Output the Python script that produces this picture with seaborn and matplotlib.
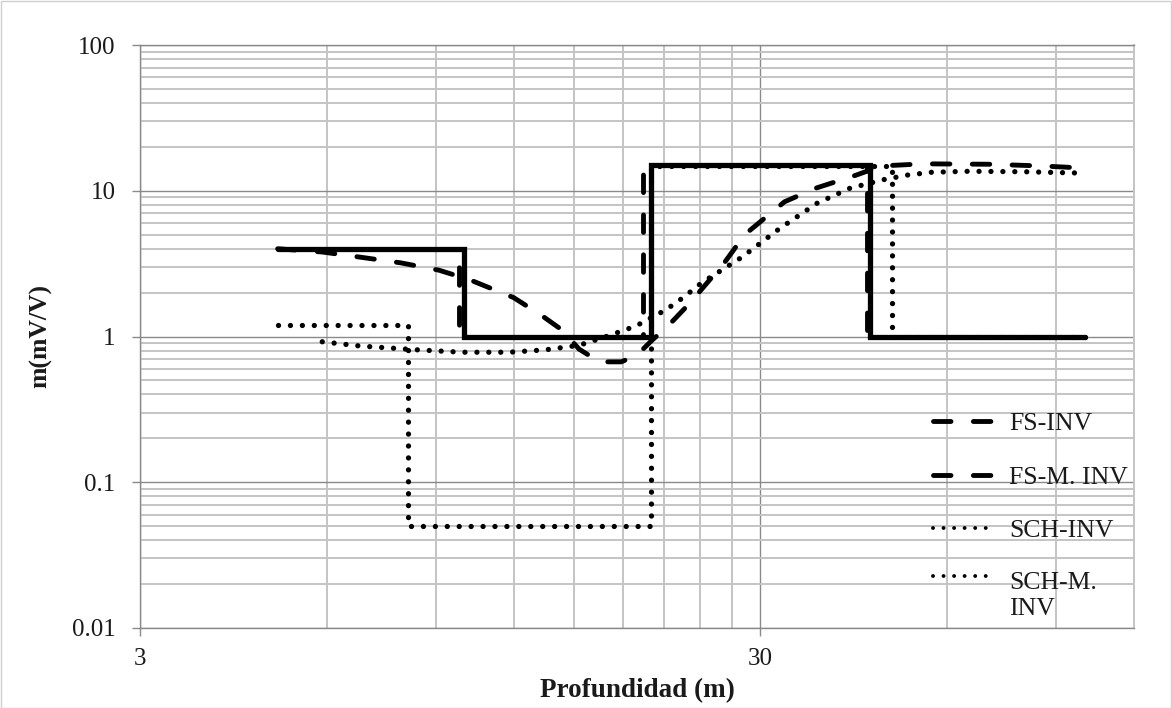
import numpy as np
import pandas as pd
import matplotlib
matplotlib.use("Agg")
import matplotlib.pyplot as plt
import seaborn as sns
from matplotlib.ticker import FixedLocator, FixedFormatter, NullFormatter
from matplotlib.lines import Line2D
from matplotlib.patches import Rectangle

sns.set_theme(style="white")
plt.rcParams['font.family'] = ['Liberation Serif', 'DejaVu Serif']

# ---------------- data ----------------
# solid step model (no legend entry)
solid_x = [5, 10, 20, 45, 100]
solid_y = [4, 1, 15, 1, 1]

# FS-INV (dashed smooth curve)
fs_inv_x = [5, 5.9, 6.8, 7.9, 9.1, 10.2, 12, 13.3, 14.4, 15.3, 16.5, 17.9, 19.0,
            20.1, 21.2, 23.1, 26.3, 28.3, 32.8, 36.8, 42.8, 47, 55, 70, 85, 100]
fs_inv_y = [4.0, 3.8, 3.5, 3.2, 2.85, 2.45, 1.85, 1.40, 1.10, 0.82, 0.67, 0.67, 0.75,
            0.95, 1.16, 1.7, 3.25, 5.0, 8.4, 10.4, 12.8, 14.8, 15.3, 15.2, 14.8, 14.3]

# FS-M. INV (dashed step)
fs_minv_x = [5, 9.8, 19.4, 44.6, 100]
fs_minv_y = [4, 1, 15, 1, 1]

# SCH-INV (dotted smooth curve)
sch_inv_x = [5.9, 6.8, 8.4, 9.9, 11.8, 13.5, 15.3, 16.7, 18.9, 19.7, 21.1, 22.6,
             24.1, 26, 28, 32.2, 37, 41.8, 47.3, 51.7, 56.7, 65, 80, 100]
sch_inv_y = [0.92, 0.86, 0.81, 0.78, 0.78, 0.81, 0.87, 0.98, 1.18, 1.30, 1.52, 1.87,
             2.33, 2.86, 3.5, 5.5, 8.2, 10.4, 11.9, 12.8, 13.4, 13.6, 13.5, 13.2]

# SCH-M. INV (dotted step)
sch_minv_x = [5, 8.1, 20, 48.8, 100]
sch_minv_y = [1.2, 0.05, 14.8, 1, 1]

x_major = [3, 30]
x_major_labels = ["3", "30"]
x_minor = [6, 9, 12, 15, 18, 21, 24, 27, 60, 90]
y_major = [0.01, 0.1, 1, 10, 100]
y_major_labels = ["0.01", "0.1", "1", "10", "100"]
legend_labels = ["FS-INV", "FS-M. INV", "SCH-INV", "SCH-M.\nINV"]

# ---------------- figure ----------------
W, H = 1172, 708
fig = plt.figure(figsize=(W / 100, H / 100), dpi=100)
fig.patch.set_facecolor("white")
ax = fig.add_axes([140 / W, (H - 628) / H, 994 / W, 583 / H])
ax.set_facecolor("white")

MAJ = "#8a8a8a"
MIN = "#c4c4c4"
TXT = "#1a1a1a"

lw = 3.5
dash = (0, (3.6, 4.6))
dot_lw = 3.8
dot = (0, (0.01, 2.25))

sns.lineplot(x=fs_inv_x, y=fs_inv_y, ax=ax, color="black", lw=lw, linestyle=dash,
             dash_capstyle="round", estimator=None, sort=False, zorder=4)
sns.lineplot(x=fs_minv_x, y=fs_minv_y, ax=ax, color="black", lw=lw, linestyle=dash,
             dash_capstyle="round", drawstyle="steps-post", estimator=None, sort=False, zorder=4)
sns.lineplot(x=sch_inv_x, y=sch_inv_y, ax=ax, color="black", lw=dot_lw, linestyle=dot,
             dash_capstyle="round", estimator=None, sort=False, zorder=4)
sns.lineplot(x=sch_minv_x, y=sch_minv_y, ax=ax, color="black", lw=dot_lw, linestyle=dot,
             dash_capstyle="round", drawstyle="steps-post", estimator=None, sort=False, zorder=4)
sns.lineplot(x=solid_x, y=solid_y, ax=ax, color="black", lw=3.8, linestyle="-",
             solid_capstyle="round", solid_joinstyle="miter", drawstyle="steps-post",
             estimator=None, sort=False, zorder=5)

ax.set_xscale("log")
ax.set_yscale("log")
ax.set_xlim(3, 120)
ax.set_ylim(0.01, 100)

ax.xaxis.set_major_locator(FixedLocator(x_major))
ax.xaxis.set_major_formatter(FixedFormatter(x_major_labels))
ax.xaxis.set_minor_locator(FixedLocator(x_minor))
ax.xaxis.set_minor_formatter(NullFormatter())

y_minor = [m * 10.0 ** e for e in range(-2, 2) for m in range(2, 10)]
ax.yaxis.set_major_locator(FixedLocator(y_major))
ax.yaxis.set_major_formatter(FixedFormatter(y_major_labels))
ax.yaxis.set_minor_locator(FixedLocator(y_minor))
ax.yaxis.set_minor_formatter(NullFormatter())

ax.grid(which="major", color=MAJ, lw=1.0, zorder=0)
ax.grid(which="minor", color=MIN, lw=1.4, zorder=0)
ax.set_axisbelow(True)

ax.tick_params(which="major", direction="out", length=5.5, width=1.0, color=MAJ,
               labelsize=18, labelcolor=TXT, left=True, bottom=True)
ax.tick_params(axis="y", which="major", pad=12)
ax.tick_params(axis="x", which="major", pad=9)
ax.tick_params(which="minor", length=0)

for s in ["left", "bottom", "top"]:
    ax.spines[s].set_color(MAJ)
    ax.spines[s].set_linewidth(1.0)
ax.spines["right"].set_color(MIN)
ax.spines["right"].set_linewidth(1.4)

ax.set_xlabel("Profundidad (m)", fontsize=19.5, fontweight="bold", color=TXT, labelpad=6)
ax.set_ylabel("m(mV/V)", fontsize=18.5, fontweight="bold", color=TXT, labelpad=14)

handles = [
    Line2D([], [], color="black", lw=lw, linestyle=dash, dash_capstyle="round"),
    Line2D([], [], color="black", lw=lw, linestyle=dash, dash_capstyle="round"),
    Line2D([], [], color="black", lw=2.8, linestyle=(0, (0.01, 2.7)), dash_capstyle="round"),
    Line2D([], [], color="black", lw=2.8, linestyle=(0, (0.01, 2.7)), dash_capstyle="round"),
]
LFS = 18.5
leg = ax.legend(handles, legend_labels, loc="upper left",
                bbox_to_anchor=(783 / 994, (628 - 402) / 583),
                frameon=False, fontsize=LFS, handlelength=2.45, handletextpad=0.5,
                labelspacing=1.18, borderaxespad=0, labelcolor=TXT)
# align the last handle with the first line of its two-line label
h4 = leg.legend_handles[3]
h4.set_ydata(np.asarray(h4.get_ydata()) + 0.75 * LFS)

fig.add_artist(Rectangle((0.5 / W, 0.5 / H), 1 - 1.5 / W, 1 - 1.5 / H, transform=fig.transFigure,
                         fill=False, edgecolor="#d0d0d0", lw=1.0))

fig.savefig("out.png", dpi=100, facecolor="white")
